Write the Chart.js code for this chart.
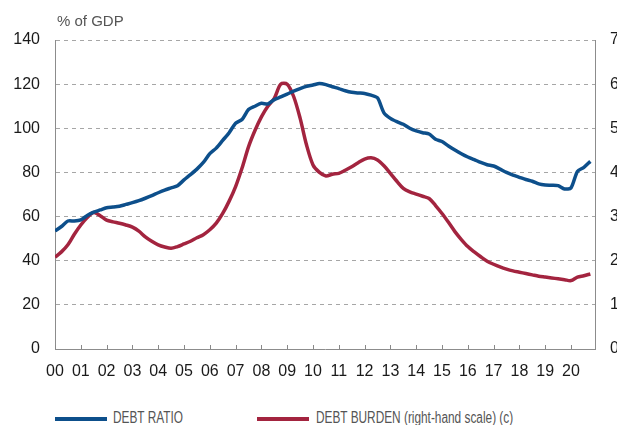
<!DOCTYPE html>
<html>
<head>
<meta charset="utf-8">
<script src="https://cdn.jsdelivr.net/npm/chart.js@4.4.0/dist/chart.umd.min.js"></script>
<style>
  html, body { margin: 0; padding: 0; background: #fff; overflow: hidden; width: 617px; height: 425px; }
  #wrap { position: relative; width: 640px; height: 425px; }
  .swatch { position: absolute; height: 4px; width: 52px; top: 417px; }
  .lbl { position: absolute; top: 410px; font-family: "Liberation Sans", Arial, sans-serif; font-size: 16px;
         line-height: 16px; color: #555; white-space: nowrap; transform: scaleX(0.74); transform-origin: left top; }
</style>
</head>
<body>
<div id="wrap">
  <canvas id="chart" width="640" height="400"></canvas>
  <div class="swatch" style="left:55px;background:#0d4f8b"></div>
  <div class="lbl" style="left:113px">DEBT RATIO</div>
  <div class="swatch" style="left:257px;background:#a3243f"></div>
  <div class="lbl" style="left:316px">DEBT BURDEN (right-hand scale) (c)</div>
</div>
<script>
const startYear = 2000;
const yearLabels = ['00','01','02','03','04','05','06','07','08','09','10',
                    '11','12','13','14','15','16','17','18','19','20'];

// quarterly, 2000 Q1 .. 2020 Q4, % of GDP
const debtRatio = [
  53.5, 55.5, 58, 58,
  58.5, 60.5, 62, 63,
  64, 64.3, 64.7, 65.5,
  66.3, 67.2, 68.3, 69.5,
  70.8, 72, 73, 74,
  76.6, 79, 81.5, 84.5,
  88.5, 91, 94.5, 98,
  102.3, 104, 108.5, 110,
  111.3, 111, 113, 114.2,
  115.5, 116.8, 118, 119,
  119.6, 120.3, 119.8, 118.8,
  118, 117, 116.3, 116,
  115.8, 115, 113.8, 107,
  104.5, 103, 101.8, 100,
  98.8, 98, 97.4, 95,
  94, 92, 90.2, 88.5,
  87, 85.8, 84.5, 83.5,
  82.9, 81.5, 80, 78.8,
  77.8, 76.8, 76, 74.8,
  74.3, 74.2, 74, 72.5,
  73, 80.5, 82.3, 85
];

// right-hand scale
const debtBurden = [
  2.08, 2.2, 2.36, 2.6,
  2.81, 2.98, 3.09, 3.02,
  2.92, 2.88, 2.85, 2.81,
  2.76, 2.67, 2.54, 2.44,
  2.36, 2.31, 2.28, 2.32,
  2.38, 2.44, 2.52, 2.59,
  2.7, 2.85, 3.07, 3.35,
  3.68, 4.1, 4.58, 4.95,
  5.26, 5.5, 5.68, 6.0,
  6.0, 5.72, 5.23, 4.62,
  4.17, 4.0, 3.92, 3.96,
  3.98, 4.05, 4.13, 4.22,
  4.3, 4.33, 4.28, 4.15,
  3.98, 3.8, 3.64, 3.56,
  3.51, 3.46, 3.41, 3.25,
  3.07, 2.87, 2.66, 2.48,
  2.32, 2.2, 2.09, 1.99,
  1.92, 1.86, 1.81, 1.77,
  1.74, 1.71, 1.68, 1.65,
  1.63, 1.61, 1.59, 1.57,
  1.55, 1.63, 1.66, 1.70
];

const toPoints = arr => arr.map((v, i) => ({ x: startYear + i / 4, y: v }));

const font = { family: '"Liberation Sans", Arial, sans-serif', size: 16 };

// inner tick marks on the x axis + the unit label
const extras = {
  id: 'extras',
  afterDraw(chart) {
    const ctx = chart.ctx, x = chart.scales.x, area = chart.chartArea;
    ctx.save();
    ctx.strokeStyle = '#888';
    ctx.lineWidth = 1;
    x.ticks.forEach(t => {
      const px = Math.round(x.getPixelForValue(t.value)) + 0.5;
      ctx.beginPath();
      ctx.moveTo(px, area.bottom);
      ctx.lineTo(px, area.bottom - 4);
      ctx.stroke();
    });
    ctx.fillStyle = '#555';
    ctx.font = '15px "Liberation Sans", Arial, sans-serif';
    ctx.fillText('% of GDP', area.left + 2, 26);
    ctx.restore();
  }
};

new Chart(document.getElementById('chart').getContext('2d'), {
  type: 'line',
  data: {
    datasets: [
      {
        label: 'DEBT RATIO',
        data: toPoints(debtRatio),
        borderColor: '#0d4f8b',
        borderWidth: 3.5,
        pointRadius: 0,
        tension: 0.25,
        yAxisID: 'y'
      },
      {
        label: 'DEBT BURDEN (right-hand scale) (c)',
        data: toPoints(debtBurden),
        borderColor: '#a3243f',
        borderWidth: 3.5,
        pointRadius: 0,
        tension: 0.3,
        yAxisID: 'y1'
      }
    ]
  },
  options: {
    responsive: false,
    animation: false,
    layout: { padding: { top: 40, left: 0, right: 0, bottom: 0 } },
    plugins: { legend: { display: false }, tooltip: { enabled: false } },
    scales: {
      x: {
        type: 'linear',
        min: 2000,
        max: 2020.93,
        grid: { display: false, drawTicks: false },
        border: { display: true, color: '#8c8c8c', width: 1 },
        ticks: {
          stepSize: 1,
          includeBounds: false,
          autoSkip: false,
          maxRotation: 0,
          padding: 13,
          color: '#1a1a1a',
          font: font,
          callback: v => Number.isInteger(v) ? yearLabels[v - startYear] : ''
        },
        afterFit: s => { s.height = 51; }
      },
      y: {
        position: 'left',
        min: 0,
        max: 140,
        grid: { color: '#a6a6a6', lineWidth: 1, drawTicks: false },
        border: { display: true, color: '#8c8c8c', width: 1, dash: [4, 4] },
        ticks: { stepSize: 20, padding: 15, color: '#1a1a1a', font: font },
        afterFit: s => { s.width = 55; }
      },
      y1: {
        position: 'right',
        min: 0,
        max: 7,
        grid: { drawOnChartArea: false, drawTicks: false },
        border: { display: true, color: '#8c8c8c', width: 1 },
        ticks: { stepSize: 1, padding: 15, color: '#1a1a1a', font: font },
        afterFit: s => { s.width = 45; }
      }
    }
  },
  plugins: [extras]
});
</script>
</body>
</html>
